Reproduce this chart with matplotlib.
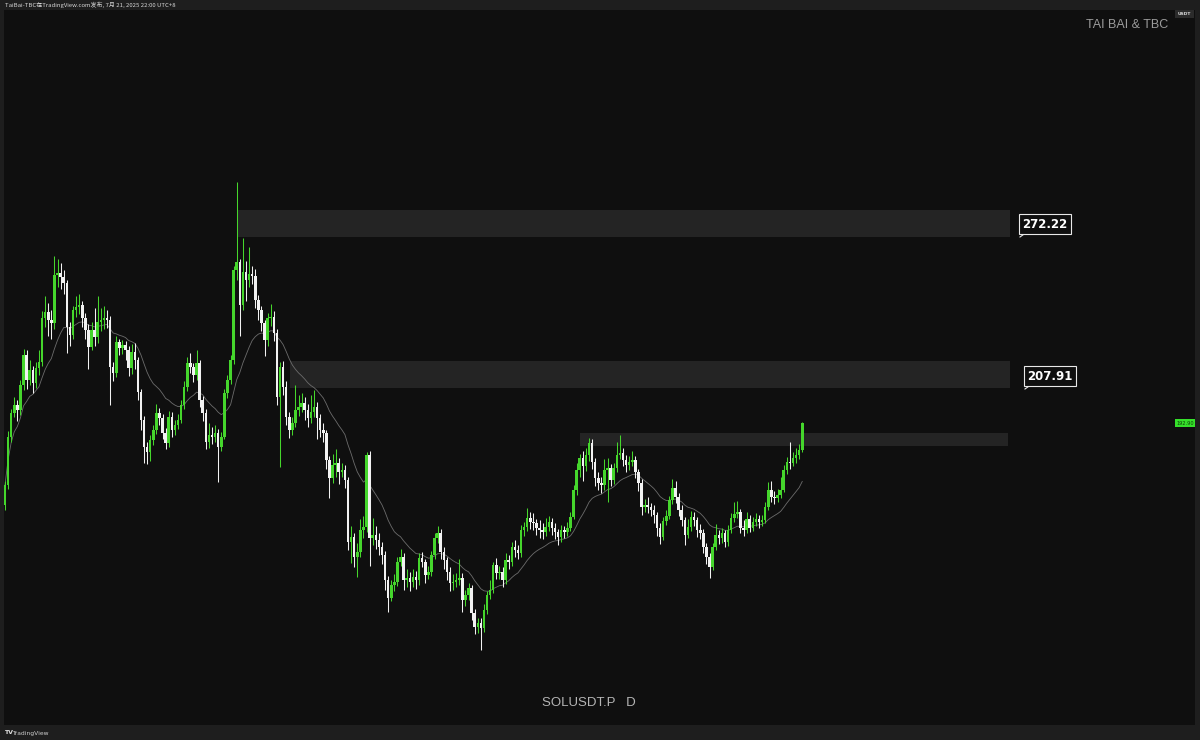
import matplotlib
matplotlib.use("Agg")
import matplotlib.pyplot as plt
import numpy as np
import pandas as pd
from matplotlib.patches import Rectangle
from matplotlib.lines import Line2D

# ---------------- data (SOLUSDT.P daily) ----------------
first_open = 158.1
close = [
166.6, 187.0, 197.3, 200.7, 198.5, 209.2, 222.0, 211.3, 215.6, 210.0,
216.4, 219.0, 237.7, 240.3, 236.9, 235.6, 256.0, 256.9, 255.2, 252.6,
233.9, 230.5, 241.1, 242.4, 243.3, 237.7, 232.6, 225.4, 232.6, 229.6,
236.0, 236.9, 237.7, 236.9, 216.9, 214.3, 227.5, 225.0, 226.2, 224.1,
216.4, 223.2, 219.8, 206.2, 194.3, 182.8, 180.7, 185.8, 190.0, 197.3,
195.1, 188.7, 184.5, 195.6, 190.0, 192.2, 194.3, 200.7, 208.3, 218.6,
216.9, 213.4, 218.6, 202.8, 197.3, 184.9, 187.9, 187.0, 188.7, 182.8,
187.0, 205.8, 211.3, 219.8, 258.2, 261.6, 243.3, 257.3, 253.9, 256.5,
255.6, 245.4, 241.1, 235.6, 228.4, 237.7, 238.1, 231.3, 204.1, 216.9,
208.3, 195.6, 190.0, 193.0, 198.5, 199.8, 201.5, 198.5, 195.1, 197.7,
199.8, 195.1, 190.0, 188.7, 177.2, 169.6, 175.1, 176.0, 172.1, 173.0,
168.7, 142.3, 144.5, 135.9, 138.1, 147.4, 148.7, 179.4, 144.0, 145.3,
143.2, 140.2, 136.8, 126.1, 118.5, 124.0, 125.3, 133.8, 135.9, 126.1,
127.0, 125.3, 127.4, 126.1, 135.5, 133.8, 128.3, 129.5, 136.8, 144.0,
146.2, 138.1, 134.7, 129.5, 124.9, 125.3, 126.1, 127.0, 117.6, 119.7,
122.7, 112.1, 106.1, 107.8, 105.7, 113.4, 119.7, 121.9, 132.5, 129.1,
129.5, 126.1, 134.7, 133.8, 140.2, 138.9, 137.6, 147.4, 148.7, 152.5,
150.8, 150.4, 148.3, 147.4, 146.6, 148.7, 150.8, 148.3, 146.6, 144.5,
147.4, 146.6, 148.3, 153.0, 164.5, 173.0, 178.1, 174.7, 179.4, 184.5,
176.4, 169.6, 167.5, 166.6, 173.0, 173.8, 168.7, 173.8, 179.4, 180.2,
177.2, 175.1, 176.4, 177.2, 172.1, 167.5, 157.2, 158.1, 157.2, 156.0,
153.8, 148.3, 144.5, 151.3, 153.4, 160.2, 165.3, 161.5, 156.0, 151.7,
145.3, 148.7, 153.0, 151.7, 147.4, 146.2, 140.2, 135.9, 131.7, 140.2,
145.3, 144.0, 146.2, 142.3, 147.4, 152.5, 154.2, 155.1, 148.3, 147.4,
152.1, 148.3, 150.8, 152.1, 150.8, 151.7, 157.2, 164.5, 161.5, 161.1,
162.3, 164.5, 173.0, 176.4, 176.0, 178.1, 179.4, 181.5, 192.9
]
high = [
168.5, 189.5, 199.0, 204.0, 203.0, 211.5, 224.5, 224.0, 220.0, 217.5,
219.0, 224.0, 240.5, 247.0, 244.0, 241.0, 264.0, 263.0, 261.0, 258.0,
254.0, 236.0, 243.0, 247.0, 248.0, 245.0, 240.0, 235.0, 236.0, 242.0,
247.0, 242.0, 243.0, 241.0, 238.5, 219.0, 230.0, 229.0, 228.5, 228.0,
226.0, 226.5, 227.0, 221.0, 207.5, 196.0, 185.0, 188.0, 192.0, 201.0,
199.5, 197.0, 191.0, 198.0, 197.5, 194.5, 197.0, 203.0, 211.0, 221.0,
223.0, 218.5, 224.0, 220.0, 204.5, 199.0, 193.0, 191.5, 192.0, 190.5,
189.0, 207.5, 213.5, 222.0, 260.0, 295.6, 263.0, 272.0, 262.0, 268.0,
260.0, 258.5, 247.5, 243.0, 237.0, 240.0, 243.5, 240.5, 233.0, 219.0,
219.5, 211.0, 197.5, 195.5, 209.0, 205.0, 206.0, 204.0, 201.0, 205.0,
207.0, 202.0, 197.0, 193.0, 190.0, 179.0, 180.0, 182.0, 178.0, 176.0,
175.0, 170.0, 149.0, 146.0, 142.0, 152.0, 153.5, 180.5, 181.0, 152.5,
149.0, 146.0, 142.5, 138.5, 128.0, 126.0, 128.5, 136.0, 139.5, 137.5,
131.0, 129.5, 131.0, 130.0, 137.5, 138.0, 135.0, 132.0, 138.5, 146.0,
149.0, 148.0, 140.0, 136.0, 131.5, 128.5, 129.0, 135.0, 129.0, 122.0,
125.0, 124.0, 114.0, 110.0, 110.0, 116.0, 121.5, 126.0, 134.0, 135.5,
132.0, 131.5, 137.5, 137.0, 142.5, 143.0, 141.0, 149.5, 151.0, 157.0,
155.0, 154.5, 152.0, 151.5, 150.5, 152.5, 153.5, 152.5, 150.5, 148.0,
149.5, 149.0, 151.0, 155.0, 166.5, 176.0, 180.0, 181.0, 182.5, 186.5,
186.0, 178.0, 172.0, 170.0, 177.5, 178.0, 175.5, 176.0, 185.0, 187.9,
182.5, 179.5, 179.0, 181.0, 179.0, 173.5, 169.0, 160.5, 161.5, 159.0,
158.0, 155.0, 150.5, 153.0, 156.0, 162.0, 169.0, 168.5, 163.0, 158.0,
153.0, 152.0, 155.5, 155.0, 153.0, 150.0, 148.0, 142.0, 137.5, 142.0,
150.0, 147.5, 148.5, 147.5, 149.5, 154.5, 159.5, 160.0, 156.5, 151.5,
155.0, 154.0, 153.0, 154.5, 154.0, 154.0, 159.5, 168.0, 168.5, 164.0,
165.0, 170.0, 175.0, 178.5, 185.0, 180.5, 182.5, 184.0, 193.3
]
low = [
156.0, 165.0, 185.0, 195.5, 194.0, 196.5, 207.0, 207.5, 209.0, 206.0,
208.0, 213.5, 217.5, 234.0, 230.0, 229.0, 233.0, 251.0, 250.0, 248.0,
223.0, 226.0, 229.0, 238.0, 239.5, 234.0, 229.0, 216.0, 224.0, 226.0,
227.0, 232.0, 233.0, 233.5, 200.5, 211.0, 212.5, 222.0, 222.5, 220.0,
213.0, 214.0, 216.0, 203.0, 190.0, 176.0, 175.5, 177.0, 183.5, 188.5,
192.0, 186.0, 182.0, 183.0, 187.0, 188.0, 190.5, 193.0, 199.0, 206.5,
214.5, 210.5, 211.5, 200.0, 194.0, 182.0, 182.5, 184.0, 185.0, 167.9,
181.0, 186.0, 203.5, 209.5, 218.0, 254.0, 230.0, 241.0, 245.0, 251.0,
252.0, 242.0, 237.0, 232.0, 221.5, 226.0, 234.5, 228.0, 200.5, 174.3,
205.0, 192.0, 186.5, 188.0, 191.5, 196.0, 197.5, 194.5, 191.5, 193.0,
195.5, 186.0, 187.0, 185.0, 173.5, 161.0, 167.5, 170.0, 167.0, 170.0,
165.5, 139.0, 133.5, 131.5, 127.5, 136.0, 144.0, 146.5, 132.0, 141.0,
139.5, 137.0, 133.0, 122.0, 112.5, 117.0, 121.5, 123.5, 132.0, 122.0,
123.0, 121.5, 123.0, 122.5, 124.0, 131.5, 125.0, 126.5, 128.0, 135.0,
142.0, 135.0, 131.0, 126.0, 121.5, 122.0, 123.0, 124.0, 112.5, 115.0,
117.5, 109.0, 103.0, 103.5, 96.3, 104.0, 111.5, 118.0, 120.5, 126.5,
126.5, 123.0, 124.5, 131.0, 132.0, 136.0, 135.0, 136.0, 145.0, 147.0,
148.0, 147.5, 145.5, 144.0, 143.5, 145.0, 147.0, 145.5, 143.5, 141.0,
142.5, 144.0, 145.0, 147.0, 152.0, 162.5, 170.0, 168.5, 172.5, 177.0,
173.5, 166.0, 164.5, 163.0, 164.5, 159.5, 166.0, 167.0, 172.0, 177.5,
174.5, 172.0, 173.0, 174.5, 169.5, 164.0, 154.0, 155.0, 154.5, 153.5,
150.5, 145.0, 141.5, 143.0, 149.5, 152.0, 158.5, 159.0, 153.5, 149.0,
141.0, 144.0, 147.0, 149.0, 144.5, 143.5, 137.5, 133.0, 127.0, 130.5,
139.0, 141.5, 142.0, 140.0, 140.5, 146.0, 151.0, 152.5, 146.0, 145.0,
146.0, 146.5, 147.0, 149.0, 148.5, 149.0, 150.5, 156.0, 159.5, 158.5,
159.5, 161.0, 163.5, 171.5, 173.5, 174.5, 176.0, 177.5, 180.5
]

# zones (price bottom / top) and their start / end bar
zone_bottom = [272.22, 207.91, 183.2]
zone_top = [283.7, 219.4, 188.8]
zone_start = [75.1, 92.2, 186.1]
zone_end = [325.2, 325.2, 324.6]
zone_labels = ["272.22", "207.91"]

symbol_text = "SOLUSDT.P   D"
brand_text = "TAI BAI & TBC"
header_text = "TaiBai-TBC在TradingView.com发布, 7月 21, 2025 22:00 UTC+8"

# ---------------- figure ----------------
W, H = 1200, 740
fig = plt.figure(figsize=(W / 100, H / 100), dpi=100, facecolor='#1e1e1e')

def fxy(px, py):
    return px / W, 1 - py / H

ax = fig.add_axes([4 / W, 1 - 725 / H, (1195 - 4) / W, (725 - 10) / H])
ax.set_facecolor('#0f0f0f')
for s in ax.spines.values():
    s.set_visible(False)
ax.set_xticks([])
ax.set_yticks([])

n = len(close)
x = np.arange(n)
opens = np.array([first_open] + close[:-1])
closes = np.array(close)
highs = np.array(high)
lows = np.array(low)

GREEN = '#45d62c'
WHITE = '#f2f2f2'
up = closes >= opens
colors = np.where(up, GREEN, WHITE)

# zones
for b, t, s, e in zip(zone_bottom, zone_top, zone_start, zone_end):
    ax.add_patch(Rectangle((s, b), e - s, t - b, facecolor='#242424',
                           edgecolor='none', zorder=1))

# moving average
ma = pd.Series(closes).ewm(span=20, adjust=True).mean()
ax.plot(x, ma, color='#6c6c6c', lw=0.6, zorder=2)

# candles
ax.vlines(x, lows, highs, colors=colors, lw=0.75, zorder=3)
body_bottom = np.minimum(opens, closes)
body_h = np.maximum(np.abs(closes - opens), 0.5)
ax.bar(x, body_h, bottom=body_bottom, width=0.82, color=colors,
       linewidth=0, zorder=4)

ax.set_xlim(-0.32, 385.1)
ax.set_ylim(64.4, 368.9)

# ---------------- annotations ----------------
cjk = ['Noto Sans CJK SC', 'DejaVu Sans']

# zone callouts
label_pos = [(1045, 224), (1050, 376)]
tails = [((1020, 237), (1027, 232)), ((1025, 389), (1032, 384))]
for txt, (px, py), (p0, p1) in zip(zone_labels, label_pos, tails):
    fx, fy = fxy(px, py)
    fig.text(fx, fy, txt, color='white', fontsize=8.5, fontweight='bold',
             ha='center', va='center', family='DejaVu Sans',
             bbox=dict(boxstyle='square,pad=0.28', fc='#0f0f0f',
                       ec='#e8e8e8', lw=0.8))
    a = fxy(*p0)
    b = fxy(*p1)
    fig.add_artist(Line2D([a[0], b[0]], [a[1], b[1]], color='#e8e8e8',
                          lw=0.8, transform=fig.transFigure))

# brand and symbol
fx, fy = fxy(1127, 25)
fig.text(fx, fy, brand_text, color='#9b9b9b', fontsize=9.0, ha='center',
         va='center', family='Liberation Sans')
fx, fy = fxy(589, 703)
fig.text(fx, fy, symbol_text, color='#b5b5b5', fontsize=9.5, ha='center',
         va='center', family='Liberation Sans')

# last price label on the price scale
lx0, ly0 = fxy(1175, 427)
lx1, ly1 = fxy(1195, 419)
fig.add_artist(Rectangle((lx0, ly0), lx1 - lx0, ly1 - ly0, transform=fig.transFigure,
                         facecolor='#35e02a', edgecolor='none'))
fx, fy = fxy(1185, 423)
fig.text(fx, fy, f"{close[-1]:.2f}", color='#0d3d0a', fontsize=3.6,
         ha='center', va='center', family='DejaVu Sans')

# USDT currency tag
ux0, uy0 = fxy(1175, 18)
ux1, uy1 = fxy(1194, 10)
fig.add_artist(Rectangle((ux0, uy0), ux1 - ux0, uy1 - uy0, transform=fig.transFigure,
                         facecolor='#2b2b2b', edgecolor='none'))
fx, fy = fxy(1184.5, 14)
fig.text(fx, fy, "USDT", color='#dddddd', fontsize=3.2, ha='center',
         va='center', family='DejaVu Sans', fontweight='bold')

# header line
fx, fy = fxy(5, 5)
fig.text(fx, fy, header_text, color='#d5d5d5', fontsize=4.3, ha='left',
         va='center', family=cjk)

# TradingView footer
fx, fy = fxy(4, 733)
fig.text(fx, fy, "TV", color='#e0e0e0', fontsize=4.5, ha='left', va='center',
         family='DejaVu Sans', fontweight='bold')
fx, fy = fxy(12, 733)
fig.text(fx, fy, "TradingView", color='#cfcfcf', fontsize=4.3, ha='left',
         va='center', family='DejaVu Sans')

fig.savefig('out.png', dpi=100, facecolor=fig.get_facecolor())
